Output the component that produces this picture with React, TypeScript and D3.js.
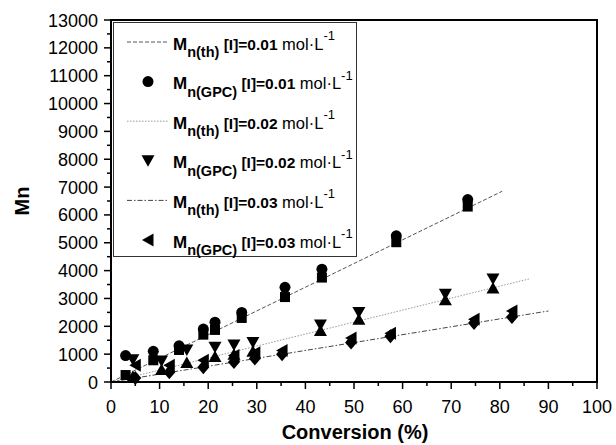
import React from "react";
import * as d3 from "d3";

// ---- data ----
const xTicks = [0, 10, 20, 30, 40, 50, 60, 70, 80, 90, 100];
const yTicks = [0, 1000, 2000, 3000, 4000, 5000, 6000, 7000, 8000, 9000, 10000, 11000, 12000, 13000];

const conv01 = [3, 8.7, 14, 19, 21.4, 26.9, 35.8, 43.4, 58.7, 73.4];
const gpc01 = [950, 1100, 1300, 1900, 2150, 2500, 3400, 4050, 5250, 6550];
const th01 = [250, 780, 1150, 1700, 1870, 2300, 3050, 3750, 5020, 6300];

const conv02 = [4.5, 10.4, 15.6, 21.4, 25.3, 29.2, 43.1, 51, 68.8, 78.6];
const gpc02 = [800, 750, 1150, 1250, 1330, 1420, 2050, 2500, 3150, 3700];
const th02 = [200, 450, 700, 920, 1000, 1100, 1850, 2250, 2950, 3380];

const conv03 = [5, 12, 19, 25.3, 29.6, 35.2, 49.4, 57.5, 74.7, 82.5];
const gpc03 = [600, 600, 780, 950, 1050, 1130, 1580, 1750, 2250, 2550];
const th03 = [140, 350, 530, 720, 840, 1000, 1420, 1640, 2120, 2330];

const lineX01 = [0, 80.5];
const lineY01 = [0, 6850];
const lineX02 = [0, 86];
const lineY02 = [0, 3700];
const lineX03 = [0, 90];
const lineY03 = [0, 2550];

const legendConc = ["0.01", "0.01", "0.02", "0.02", "0.03", "0.03"];
const legendKind = ["th", "GPC", "th", "GPC", "th", "GPC"];

const FONT = "'Liberation Sans', Arial, Helvetica, sans-serif";

const x = d3.scaleLinear().domain([0, 100]).range([111, 597]);
const y = d3.scaleLinear().domain([0, 13000]).range([382, 20]);

type Shape = "circle" | "square" | "up" | "down" | "left" | "diamond";

function marker(shape: Shape, cx: number, cy: number, key: string) {
  switch (shape) {
    case "circle":
      return <circle key={key} cx={cx} cy={cy} r={5.5} fill="#000" />;
    case "square":
      return <rect key={key} x={cx - 5} y={cy - 5} width={10} height={10} fill="#000" />;
    case "up":
      return <path key={key} d={`M${cx},${cy - 6}L${cx + 6.5},${cy + 5.5}L${cx - 6.5},${cy + 5.5}Z`} fill="#000" />;
    case "down":
      return <path key={key} d={`M${cx},${cy + 6}L${cx + 6.5},${cy - 5.5}L${cx - 6.5},${cy - 5.5}Z`} fill="#000" />;
    case "left":
      return <path key={key} d={`M${cx - 6},${cy}L${cx + 5.5},${cy - 6.5}L${cx + 5.5},${cy + 6.5}Z`} fill="#000" />;
    case "diamond":
      return <path key={key} d={`M${cx},${cy - 7}L${cx + 6},${cy}L${cx},${cy + 7}L${cx - 6},${cy}Z`} fill="#000" />;
  }
}

const lineStyles = [
  { stroke: "#555", dash: "4,2", width: 1 },
  { stroke: "#999", dash: "1.5,1.5", width: 1 },
  { stroke: "#444", dash: "5,2,1.5,2", width: 1 },
];

export default function App() {
  const lineGen = d3
    .line<[number, number]>()
    .x((d) => x(d[0]))
    .y((d) => y(d[1]));

  const lines = [
    [lineX01, lineY01],
    [lineX02, lineY02],
    [lineX03, lineY03],
  ];

  const series: { xs: number[]; ys: number[]; shape: Shape }[] = [
    { xs: conv01, ys: th01, shape: "square" },
    { xs: conv01, ys: gpc01, shape: "circle" },
    { xs: conv02, ys: th02, shape: "up" },
    { xs: conv02, ys: gpc02, shape: "down" },
    { xs: conv03, ys: th03, shape: "diamond" },
    { xs: conv03, ys: gpc03, shape: "left" },
  ];

  const minorX = d3.range(5, 100, 10);
  const minorY = d3.range(500, 13000, 1000);

  const legendShapes: Shape[] = ["circle", "down", "left"];

  return (
    <svg
      width={616}
      height={445}
      style={{ position: "absolute", left: 0, top: 0, background: "#fff" }}
      fontFamily={FONT}
    >
      <rect x={0} y={0} width={616} height={445} fill="#fff" />

      {/* fit lines */}
      {lines.map((l, i) => (
        <path
          key={"l" + i}
          d={lineGen(l[0].map((v, j) => [v, l[1][j]] as [number, number])) || ""}
          fill="none"
          stroke={lineStyles[i].stroke}
          strokeWidth={lineStyles[i].width}
          strokeDasharray={lineStyles[i].dash}
        />
      ))}

      {/* points */}
      {series.map((s, i) => (
        <g key={"s" + i}>{s.xs.map((v, j) => marker(s.shape, x(v), y(s.ys[j]), `p${i}-${j}`))}</g>
      ))}

      {/* frame */}
      <rect x={111} y={20} width={486} height={362} fill="none" stroke="#000" strokeWidth={2} />

      {/* x ticks */}
      {xTicks.map((t) => (
        <g key={"xt" + t}>
          <line x1={x(t)} x2={x(t)} y1={382} y2={389} stroke="#000" strokeWidth={1.5} />
          <text x={x(t)} y={413} fontSize={18} textAnchor="middle" fill="#000">
            {t}
          </text>
        </g>
      ))}
      {minorX.map((t) => (
        <line key={"xm" + t} x1={x(t)} x2={x(t)} y1={382} y2={386} stroke="#000" strokeWidth={1.5} />
      ))}

      {/* y ticks */}
      {yTicks.map((t) => (
        <g key={"yt" + t}>
          <line x1={104} x2={111} y1={y(t)} y2={y(t)} stroke="#000" strokeWidth={1.5} />
          <text x={98} y={y(t) + 6.5} fontSize={18} textAnchor="end" fill="#000">
            {t}
          </text>
        </g>
      ))}
      {minorY.map((t) => (
        <line key={"ym" + t} x1={107} x2={111} y1={y(t)} y2={y(t)} stroke="#000" strokeWidth={1.5} />
      ))}

      {/* axis titles */}
      <text x={355} y={439} fontSize={20} fontWeight="bold" textAnchor="middle" fill="#000">
        Conversion (%)
      </text>
      <text
        transform={`translate(29,201) rotate(-90)`}
        fontSize={20}
        fontWeight="bold"
        textAnchor="middle"
        fill="#000"
      >
        Mn
      </text>

      {/* legend */}
      <rect x={113.5} y={22.5} width={243} height={234} fill="#fff" stroke="#333" strokeWidth={1} />
      {legendConc.map((c, i) => {
        const yc = 42 + i * 39.6;
        const isLine = legendKind[i] === "th";
        const li = Math.floor(i / 2);
        return (
          <g key={"lg" + i}>
            {isLine ? (
              <line
                x1={127}
                x2={168}
                y1={yc}
                y2={yc}
                stroke={lineStyles[li].stroke}
                strokeWidth={1}
                strokeDasharray={lineStyles[li].dash}
              />
            ) : (
              marker(legendShapes[li], 148, yc, "lm" + i)
            )}
            <text x={173} y={yc + 7.5} fill="#000">
              <tspan fontWeight="bold" fontSize={17}>
                M
              </tspan>
              <tspan fontWeight="bold" fontSize={14.5} dy={7.5}>
                {`n(${legendKind[i]})`}
              </tspan>
              <tspan fontWeight="bold" fontSize={15.5} dy={-7.5}>
                {` [I]=${c}`}
              </tspan>
              <tspan fontSize={16.5}>{" mol·L"}</tspan>
              <tspan fontSize={13} dy={-9.5}>
                -1
              </tspan>
            </text>
          </g>
        );
      })}
    </svg>
  );
}
